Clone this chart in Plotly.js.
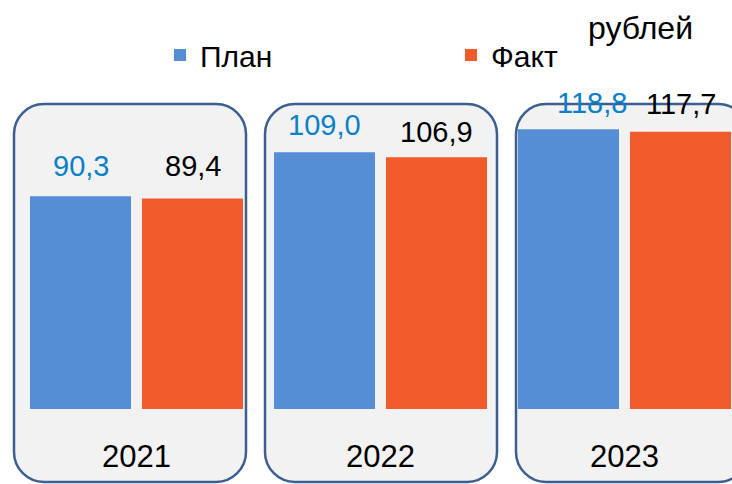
<!DOCTYPE html>
<html>
<head>
<meta charset="utf-8">
<script src="https://cdn.plot.ly/plotly-3.0.1.min.js"></script>
<style>html,body{margin:0;padding:0;background:#fff}#chart{width:732px;height:484px}</style>
</head>
<body>
<div id="chart"></div>
<script>
// ---- data ----
var years = ['2021', '2022', '2023'];
var planValues = [90.3, 109.0, 118.8];
var factValues = [89.4, 106.9, 117.7];
var seriesNames = ['План', 'Факт'];
var unitLabel = 'рублей';

// ---- style ----
var W = 732, H = 484, MB = 75;
var plotH = H - MB;
var pxPerUnit = 2.355;
var planColor = '#558ed5', factColor = '#f15a2b';
var planLabelColor = '#0a80c8';
var fontMain = '"Liberation Sans", Arial, sans-serif';
// label offsets (px) relative to bar tops / slot centers
var planLabelDx = [0, 0, 23], planLabelDy = [30, 27, 26];
var factLabelDx = [0, 0, 0], factLabelDy = [32, 25, 28];
// decorative rounded boxes (px)
var boxes = [[14, 246], [265, 497], [516, 748]];
var boxTop = 104, boxBottom = 482, radius = 30;

function fmt(v) { return v.toFixed(1).replace('.', ','); }
function px2x(p) { return p / W; }
function py2y(p) { return (plotH - p) / plotH; }

function roundedPath(x0, x1, y0, y1, r) {
  var k = 0.5523 * r;
  var P = function (x, y) { return px2x(x).toFixed(5) + ',' + py2y(y).toFixed(5); };
  return 'M' + P(x0 + r, y0) +
    ' L' + P(x1 - r, y0) +
    ' C' + P(x1 - r + k, y0) + ' ' + P(x1, y0 + r - k) + ' ' + P(x1, y0 + r) +
    ' L' + P(x1, y1 - r) +
    ' C' + P(x1, y1 - r + k) + ' ' + P(x1 - r + k, y1) + ' ' + P(x1 - r, y1) +
    ' L' + P(x0 + r, y1) +
    ' C' + P(x0 + r - k, y1) + ' ' + P(x0, y1 - r + k) + ' ' + P(x0, y1 - r) +
    ' L' + P(x0, y0 + r) +
    ' C' + P(x0, y0 + r - k) + ' ' + P(x0 + r - k, y0) + ' ' + P(x0 + r, y0) + ' Z';
}

var shapes = boxes.map(function (b) {
  return {
    type: 'path', xref: 'paper', yref: 'paper', layer: 'below',
    path: roundedPath(b[0], b[1], boxTop, boxBottom, radius),
    fillcolor: '#f2f2f2', line: { color: '#3d5f8f', width: 2.5 }
  };
});

var bargap = 0.082, bargroupgap = 0.098;
var slotOffset = 0.25 * (1 - bargap); // in category units

var annotations = [];
years.forEach(function (y, i) {
  annotations.push({
    x: i - slotOffset, y: planValues[i], xref: 'x', yref: 'y',
    text: fmt(planValues[i]), showarrow: false, yanchor: 'middle',
    xshift: planLabelDx[i], yshift: planLabelDy[i],
    font: { family: fontMain, size: 29, color: planLabelColor }
  });
  annotations.push({
    x: i + slotOffset, y: factValues[i], xref: 'x', yref: 'y',
    text: fmt(factValues[i]), showarrow: false, yanchor: 'middle',
    xshift: factLabelDx[i], yshift: factLabelDy[i],
    font: { family: fontMain, size: 29, color: '#000' }
  });
});
annotations.push({
  x: px2x(640), y: py2y(28), xref: 'paper', yref: 'paper',
  text: unitLabel, showarrow: false, xanchor: 'center', yanchor: 'middle',
  font: { family: fontMain, size: 32, color: '#000' }
});

var traces = [
  { type: 'bar', name: seriesNames[0], x: years, y: planValues, marker: { color: planColor }, hoverinfo: 'none' },
  { type: 'bar', name: seriesNames[1], x: years, y: factValues, marker: { color: factColor }, hoverinfo: 'none' }
];

var catLeft = -136.5 / 244;
var layout = {
  width: W, height: H,
  margin: { l: 0, r: 0, t: 0, b: MB, pad: 0, autoexpand: false },
  paper_bgcolor: '#ffffff', plot_bgcolor: 'rgba(0,0,0,0)',
  barmode: 'group', bargap: bargap, bargroupgap: bargroupgap,
  showlegend: true,
  legend: {
    orientation: 'h', x: px2x(160), xanchor: 'left', y: py2y(55), yanchor: 'middle',
    entrywidth: 246, entrywidthmode: 'pixels', bgcolor: 'rgba(0,0,0,0)',
    font: { family: fontMain, size: 30, color: '#000' }
  },
  xaxis: {
    type: 'category', range: [catLeft, catLeft + W / 244], showgrid: false, zeroline: false,
    showline: false, ticks: '', ticklabelstandoff: 26, automargin: false,
    tickfont: { family: fontMain, size: 31, color: '#000' }, fixedrange: true
  },
  yaxis: {
    range: [0, plotH / pxPerUnit], visible: false, showgrid: false, zeroline: false, fixedrange: true
  },
  shapes: shapes,
  annotations: annotations
};

Plotly.newPlot('chart', traces, layout, { displayModeBar: false, staticPlot: true });
</script>
</body>
</html>
